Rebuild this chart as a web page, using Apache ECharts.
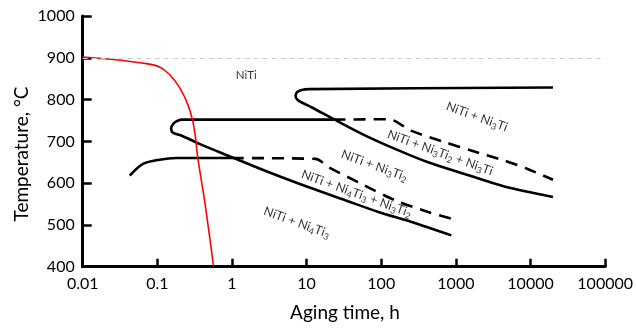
<!DOCTYPE html>
<html>
<head>
<meta charset="utf-8">
<title>Aging time - temperature</title>
<script src="https://cdn.jsdelivr.net/npm/echarts@6/dist/echarts.min.js"></script>
<style>
    html, body { margin: 0; padding: 0; background: #fff; }
    #chart { width: 636px; height: 328px; }
</style>
</head>
<body>
<div id="chart"></div>
<script>
// tick labels
var xTickLabels = ['0.01', '0.1', '1', '10', '100', '1000', '10000', '100000'];

// red curve
var redTime = [0.01, 0.0256, 0.0713, 0.107, 0.146, 0.198, 0.255, 0.298, 0.324, 0.347, 0.436, 0.567];
var redTemp = [902, 896, 886, 878, 860, 829, 789, 749, 710, 662, 551, 400];

// lowest solid line (starts at 0.04 h, flat at 660)
var lowTime = [0.0427, 0.0643, 0.107, 0.179, 1.0];
var lowTemp = [618, 646, 656, 660, 660];

// lower dashed line
var lowDashTime = [1.0, 13.1, 19.8, 54.8, 152.8, 424, 869];
var lowDashTemp = [660, 658, 638, 598, 559, 531, 515];

// middle solid line with nose near 0.15 h
var midTime = [23, 0.219, 0.185, 0.162, 0.153, 0.161, 0.209, 0.366, 1.0, 3.13, 10.7, 33, 91.6, 255, 869];
var midTemp = [752, 752, 749, 741, 731, 721, 714, 694, 662, 626, 590, 559, 531, 507, 475];

// middle dashed line
var midDashTime = [23, 124, 255, 710, 1603, 4467, 9140, 20000];
var midDashTemp = [752, 753, 725, 698, 678, 654, 634, 608];

// top solid line with nose near 7 h
var topTime = [20000, 10.7, 8.6, 7.5, 7.11, 7.5, 8.6, 11.8, 23, 54.8, 152.8, 424, 1309, 4467, 20000];
var topTemp = [829, 825, 823, 818, 809, 800, 793, 781, 753, 718, 682, 650, 622, 592, 567];

// phase field labels
var labelTime = [1.55, 1910, 614, 81, 46.7, 7.4];
var labelTemp = [859, 759, 673, 642, 575, 506];
var labelText = [
    'NiTi',
    'NiTi + Ni{s|3}Ti',
    'NiTi + Ni{s|3}Ti{s|2} + Ni{s|3}Ti',
    'NiTi + Ni{s|3}Ti{s|2}',
    'NiTi + Ni{s|4}Ti{s|3} + Ni{s|3}Ti{s|2}',
    'NiTi + Ni{s|4}Ti{s|3}'
];
var labelRotate = [0, -20, -20, -20, -20, -20];

function zip(a, b) {
    var out = [];
    for (var i = 0; i < a.length; i++) out.push([a[i], b[i]]);
    return out;
}

var fontName = 'Lato';

function blackLine(name, data, dashed) {
    return {
        name: name,
        type: 'line',
        data: data,
        symbol: 'none',
        smooth: 0.3,
        lineStyle: { color: '#000', width: 2.6, type: dashed ? [12, 8] : 'solid' },
        z: 3
    };
}

var labelData = [];
for (var i = 0; i < labelTime.length; i++) {
    labelData.push({
        value: [labelTime[i], labelTemp[i]],
        label: {
            formatter: labelText[i],
            rotate: labelRotate[i],
            fontSize: i === 0 ? 11.5 : 12.5
        }
    });
}

var myChart = echarts.init(document.getElementById('chart'));
myChart.setOption({
    animation: false,
    grid: { left: 82.7, right: 28, top: 16, bottom: 61.3 },
    xAxis: {
        type: 'log',
        logBase: 10,
        min: 0.01,
        max: 100000,
        interval: 1,
        axisLine: { lineStyle: { color: '#000', width: 3 } },
        axisTick: { inside: true, length: 8, lineStyle: { color: '#000', width: 2.5 } },
        splitLine: { show: false },
        axisLabel: {
            margin: 9,
            fontFamily: fontName,
            fontSize: 16,
            color: '#000',
            formatter: function (v) {
                return xTickLabels[Math.round(Math.log10(v)) + 2];
            }
        }
    },
    yAxis: {
        type: 'value',
        min: 400,
        max: 1000,
        interval: 100,
        axisLine: { show: true, lineStyle: { color: '#000', width: 3 } },
        axisTick: { show: true, inside: true, length: 9, lineStyle: { color: '#000', width: 2.5 } },
        splitLine: { show: false },
        axisLabel: {
            margin: 8, fontFamily: fontName, fontSize: 16, color: '#000',
            formatter: function (v) { return String(v); }
        }
    },
    graphic: [
        {
            type: 'text', x: 345, y: 313,
            style: { text: 'Aging time, h', fontFamily: fontName, fontSize: 19, fill: '#000', align: 'center', verticalAlign: 'middle' }
        },
        {
            type: 'text', x: 22, y: 154, rotation: Math.PI / 2,
            style: { text: 'Temperature, \u00b0C', fontFamily: fontName, fontSize: 19, fill: '#000', align: 'center', verticalAlign: 'middle' }
        }
    ],
    series: [
        {
            name: 'red',
            type: 'line',
            data: zip(redTime, redTemp),
            symbol: 'none',
            smooth: 0.3,
            lineStyle: { color: '#ff0000', width: 1.6 },
            z: 4,
            markLine: {
                silent: true,
                symbol: 'none',
                label: { show: false },
                lineStyle: { color: '#cccccc', type: [5, 4], width: 1 },
                data: [{ yAxis: 900 }]
            }
        },
        blackLine('low', zip(lowTime, lowTemp), false),
        blackLine('lowDash', zip(lowDashTime, lowDashTemp), true),
        blackLine('mid', zip(midTime, midTemp), false),
        blackLine('midDash', zip(midDashTime, midDashTemp), true),
        blackLine('top', zip(topTime, topTemp), false),
        {
            name: 'labels',
            type: 'scatter',
            symbolSize: 0,
            data: labelData,
            z: 5,
            label: {
                show: true,
                position: 'inside',
                fontFamily: fontName,
                fontSize: 12.5,
                color: '#000',
                rich: {
                    s: { fontFamily: fontName, fontSize: 9, color: '#000', padding: [7, 0, 0, 0] }
                }
            }
        }
    ]
});
</script>
</body>
</html>
